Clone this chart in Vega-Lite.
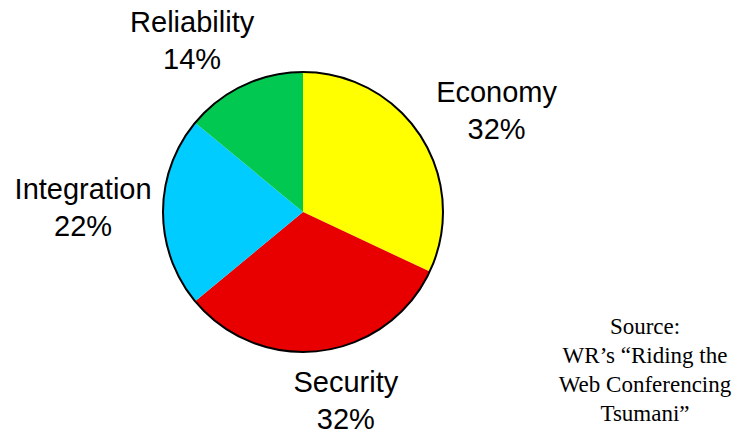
{
  "$schema": "https://vega.github.io/schema/vega-lite/v6.json",
  "width": 606,
  "height": 424,
  "autosize": {"type": "none"},
  "padding": {"left": 0, "top": 0, "right": 132, "bottom": 10},
  "background": "white",
  "config": {"view": {"stroke": null}},
  "title": {
    "text": ["Source:", "WR’s “Riding the", "Web Conferencing", "Tsumani”"],
    "orient": "bottom",
    "frame": "group",
    "anchor": "end",
    "align": "center",
    "baseline": "alphabetic",
    "offset": 0,
    "dx": 39,
    "dy": -156,
    "font": "Liberation Serif",
    "fontSize": 23,
    "fontWeight": "normal",
    "color": "black",
    "lineHeight": 29
  },
  "data": {
    "values": [
      {"category": "Economy", "value": 32, "idx": 1, "label": "Economy\n32%"},
      {"category": "Security", "value": 32, "idx": 2, "label": "Security\n32%"},
      {"category": "Integration", "value": 22, "idx": 3, "label": "Integration\n22%"},
      {"category": "Reliability", "value": 14, "idx": 4, "label": "Reliability\n14%"}
    ]
  },
  "layer": [
    {
      "mark": {"type": "arc", "outerRadius": 140, "stroke": null},
      "encoding": {
        "theta": {"field": "value", "type": "quantitative", "stack": true},
        "order": {"field": "idx", "type": "quantitative", "sort": "ascending"},
        "color": {
          "field": "category",
          "type": "nominal",
          "scale": {
            "domain": ["Economy", "Security", "Integration", "Reliability"],
            "range": ["#FFFF00", "#E80000", "#00CCFF", "#00C850"]
          },
          "legend": null
        }
      }
    },
    {
      "transform": [{"aggregate": [{"op": "count", "as": "n"}]}],
      "mark": {
        "type": "arc",
        "outerRadius": 140,
        "theta": 0,
        "theta2": 6.2832,
        "filled": false,
        "fill": null,
        "stroke": "black",
        "strokeWidth": 2
      },
      "encoding": {}
    },
    {
      "mark": {"type": "text", "radius": 227, "thetaOffset": 0.016, "lineBreak": "\n", "font": "Liberation Sans", "fontSize": 29, "lineHeight": 37, "align": "center", "baseline": "middle", "color": "black"},
      "encoding": {
        "theta": {"field": "value", "type": "quantitative", "stack": true},
        "order": {"field": "idx", "type": "quantitative", "sort": "ascending"},
        "text": {"field": "label", "type": "nominal"},
        "opacity": {"condition": {"test": "datum.idx == 1", "value": 1}, "value": 0}
      }
    },
    {
      "mark": {"type": "text", "radius": 176, "thetaOffset": -0.12, "lineBreak": "\n", "font": "Liberation Sans", "fontSize": 29, "lineHeight": 37, "align": "center", "baseline": "middle", "color": "black"},
      "encoding": {
        "theta": {"field": "value", "type": "quantitative", "stack": true},
        "order": {"field": "idx", "type": "quantitative", "sort": "ascending"},
        "text": {"field": "label", "type": "nominal"},
        "opacity": {"condition": {"test": "datum.idx == 2", "value": 1}, "value": 0}
      }
    },
    {
      "mark": {"type": "text", "radius": 221, "thetaOffset": 0.0995, "lineBreak": "\n", "font": "Liberation Sans", "fontSize": 29, "lineHeight": 37, "align": "center", "baseline": "middle", "color": "black"},
      "encoding": {
        "theta": {"field": "value", "type": "quantitative", "stack": true},
        "order": {"field": "idx", "type": "quantitative", "sort": "ascending"},
        "text": {"field": "label", "type": "nominal"},
        "opacity": {"condition": {"test": "datum.idx == 3", "value": 1}, "value": 0}
      }
    },
    {
      "mark": {"type": "text", "radius": 219, "thetaOffset": -0.091, "lineBreak": "\n", "font": "Liberation Sans", "fontSize": 29, "lineHeight": 37, "align": "center", "baseline": "middle", "color": "black"},
      "encoding": {
        "theta": {"field": "value", "type": "quantitative", "stack": true},
        "order": {"field": "idx", "type": "quantitative", "sort": "ascending"},
        "text": {"field": "label", "type": "nominal"},
        "opacity": {"condition": {"test": "datum.idx == 4", "value": 1}, "value": 0}
      }
    }
  ]
}
